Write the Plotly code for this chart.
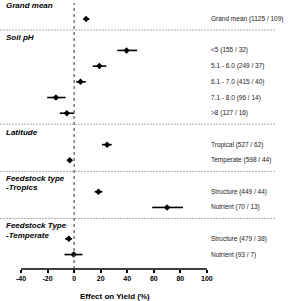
import plotly.graph_objects as go

# ---- data ----
row_labels = ["Grand mean (1125 / 109)", "<5 (155 / 32)", "5.1 - 6.0 (249 / 37)",
              "6.1 - 7.0 (415 / 40)", "7.1 - 8.0 (96 / 14)", ">8 (127 / 16)",
              "Tropical (527 / 62)", "Temperate (598 / 44)",
              "Structure (449 / 44)", "Nutrient (70 / 13)",
              "Structure (479 / 38)", "Nutrient (93 / 7)"]
row_pos = [0, 2, 3, 4, 5, 6, 8, 9, 11, 12, 14, 15]
effect = [9, 39.5, 19, 4.8, -13.7, -5.5, 24.8, -3.3, 18.3, 70, -4, -0.3]
ci_low = [7, 32.5, 14, 1.5, -20.3, -10.8, 21, -5.3, 15.5, 58.8, -6.8, -7.3]
ci_high = [11.5, 47.4, 24.3, 8.8, -6.5, 0, 28.3, -1.5, 21.3, 82, -1.5, 6.3]
x_ticks = [-40, -20, 0, 20, 40, 60, 80, 100]

headers = [("Grand mean", -0.89), ("Soil pH", 1.15), ("Latitude", 7.2),
           ("Feedstock type", 10.16), ("-Tropics", 10.73),
           ("Feedstock Type", 13.18), ("-Temperate", 13.76)]
separators = [0.7, 6.7, 9.7, 12.7]

FONT = "Liberation Sans, Arial, sans-serif"
W, H = 288, 301
ML, MR, MT, MB = 21, 12, 3, 32
pw = W - ML - MR

fig = go.Figure()
fig.add_trace(go.Scatter(
    x=effect, y=row_pos, mode="markers",
    marker=dict(symbol="diamond", size=5, color="black"),
    error_x=dict(type="data", symmetric=False,
                 array=[h - e for h, e in zip(ci_high, effect)],
                 arrayminus=[e - l for e, l in zip(effect, ci_low)],
                 color="black", thickness=1.6, width=0),
    showlegend=False, hoverinfo="skip"))

shapes = []
# vertical dotted zero line
shapes.append(dict(type="line", xref="x", yref="paper", x0=0, x1=0, y0=0, y1=1,
                   line=dict(color="#555", width=1.2, dash="dot")))
# horizontal dashed separators
for s in separators:
    shapes.append(dict(type="line", xref="paper", yref="y", x0=-ML / pw, x1=1,
                       y0=s, y1=s, line=dict(color="#999", width=0.8, dash="2px,1px")))
# x axis line
shapes.append(dict(type="line", xref="x", yref="paper", x0=-40, x1=100, y0=0, y1=0,
                   line=dict(color="black", width=1.5)))

annotations = []
for t, y in headers:
    annotations.append(dict(text="<b><i>%s</i></b>" % t, xref="paper", yref="y",
                            x=(4 - ML) / pw, y=y, xanchor="left", yanchor="middle",
                            showarrow=False, font=dict(family=FONT, size=8, color="black")))
for t, y in zip(row_labels, row_pos):
    annotations.append(dict(text=t.replace("<", "&lt;").replace(">", "&gt;"),
                            xref="paper", yref="y",
                            x=(209 - ML) / pw, y=y, xanchor="left", yanchor="middle",
                            showarrow=False, font=dict(family=FONT, size=6.5, color="#222")))
annotations.append(dict(text="<b>Effect on Yield (%)</b>", xref="x", yref="paper",
                        x=31, y=-(296 - (H - MB)) / (H - MT - MB), xanchor="center",
                        yanchor="middle", showarrow=False,
                        font=dict(family=FONT, size=8, color="black")))

fig.update_layout(
    width=W, height=H, margin=dict(l=ML, r=MR, t=MT, b=MB),
    paper_bgcolor="white", plot_bgcolor="white",
    shapes=shapes, annotations=annotations,
    xaxis=dict(range=[-40, -40 + pw / 1.328], tickvals=x_ticks,
               ticktext=[str(v) for v in x_ticks],
               ticks="outside", ticklen=3, tickwidth=1.5, tickcolor="black",
               showgrid=False, zeroline=False, showline=False,
               tickfont=dict(family=FONT, size=7, color="black", weight="bold")),
    yaxis=dict(range=[15.92, -1.02], visible=False, showgrid=False, zeroline=False),
)
fig.write_html("out.html", config={"displayModeBar": False},
               post_script="document.body.style.margin='0';document.body.style.overflow='hidden';")
